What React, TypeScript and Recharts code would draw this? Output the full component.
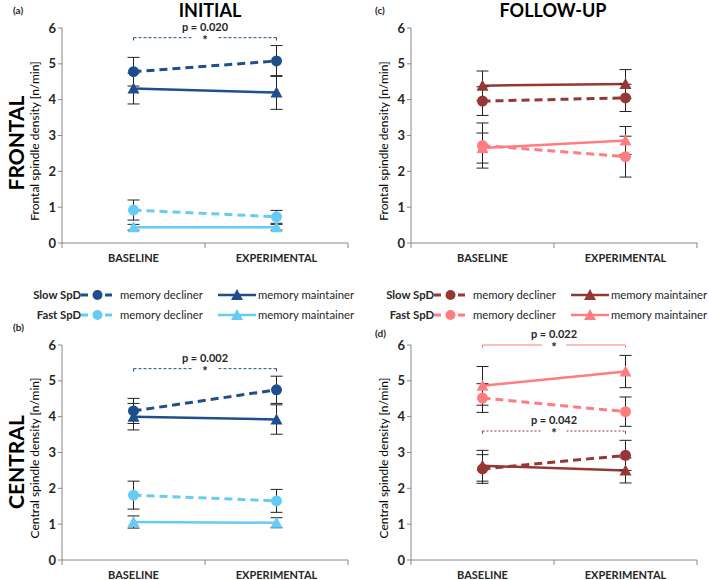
import React from "react";
import { LineChart, Line, XAxis, YAxis, ErrorBar, ReferenceLine } from "recharts";

const phases = ["BASELINE", "EXPERIMENTAL"];
const yTicks = [0, 1, 2, 3, 4, 5, 6];

// (a) initial / frontal
const aSlowDec = [4.78, 5.08];
const aSlowDecErr = [0.4, 0.43];
const aSlowMai = [4.31, 4.2];
const aSlowMaiErr = [0.43, 0.47];
const aFastDec = [0.92, 0.73];
const aFastDecErr = [0.28, 0.18];
const aFastMai = [0.44, 0.44];
const aFastMaiErr = [0.08, 0.08];

// (b) initial / central
const bSlowDec = [4.16, 4.75];
const bSlowDecErr = [0.35, 0.38];
const bSlowMai = [4.0, 3.92];
const bSlowMaiErr = [0.37, 0.41];
const bFastDec = [1.81, 1.65];
const bFastDecErr = [0.39, 0.32];
const bFastMai = [1.06, 1.04];
const bFastMaiErr = [0.17, 0.14];

// (c) follow-up / frontal
const cSlowDec = [3.96, 4.05];
const cSlowDecErr = [0.4, 0.38];
const cSlowMai = [4.39, 4.44];
const cSlowMaiErr = [0.41, 0.4];
const cFastDec = [2.72, 2.41];
const cFastDecErr = [0.63, 0.57];
const cFastMai = [2.65, 2.86];
const cFastMaiErr = [0.42, 0.39];

// (d) follow-up / central
const dSlowDec = [2.54, 2.92];
const dSlowDecErr = [0.4, 0.42];
const dSlowMai = [2.63, 2.5];
const dSlowMaiErr = [0.43, 0.35];
const dFastDec = [4.52, 4.14];
const dFastDecErr = [0.4, 0.41];
const dFastMai = [4.86, 5.26];
const dFastMaiErr = [0.54, 0.45];

// significance brackets: [y, p-text]
const aBrackets = [{ y: 5.73, p: "p = 0.020" }];
const bBrackets = [{ y: 5.34, p: "p = 0.002" }];
const dBrackets = [
  { y: 6.0, p: "p = 0.022" },
  { y: 3.6, p: "p = 0.042" },
];

const DARK_BLUE = "#1f4e8c";
const LIGHT_BLUE = "#66ccf5";
const DARK_RED = "#953735";
const SALMON = "#ff7c80";
const FONT = "Lato, 'Open Sans', sans-serif";

function build(sd: number[], sdE: number[], sm: number[], smE: number[], fd: number[], fdE: number[], fm: number[], fmE: number[]) {
  return phases.map((phase, i) => ({
    phase,
    slowDec: sd[i],
    slowDecErr: sdE[i],
    slowMai: sm[i],
    slowMaiErr: smE[i],
    fastDec: fd[i],
    fastDecErr: fdE[i],
    fastMai: fm[i],
    fastMaiErr: fmE[i],
  }));
}

const dataA = build(aSlowDec, aSlowDecErr, aSlowMai, aSlowMaiErr, aFastDec, aFastDecErr, aFastMai, aFastMaiErr);
const dataB = build(bSlowDec, bSlowDecErr, bSlowMai, bSlowMaiErr, bFastDec, bFastDecErr, bFastMai, bFastMaiErr);
const dataC = build(cSlowDec, cSlowDecErr, cSlowMai, cSlowMaiErr, cFastDec, cFastDecErr, cFastMai, cFastMaiErr);
const dataD = build(dSlowDec, dSlowDecErr, dSlowMai, dSlowMaiErr, dFastDec, dFastDecErr, dFastMai, dFastMaiErr);

const circleDot = (color: string) => (p: any) => (
  <circle key={`c${p.index}`} cx={p.cx} cy={p.cy} r={5.5} fill={color} stroke="none" />
);
const triDot = (color: string) => (p: any) => (
  <path
    key={`t${p.index}`}
    d={`M${p.cx},${p.cy - 6} L${p.cx + 6},${p.cy + 5} L${p.cx - 6},${p.cy + 5} Z`}
    fill={color}
  />
);

const PLOT_W = 286;

const XTick = (props: any) => {
  const { x, y, payload, index } = props;
  const half = PLOT_W / 4;
  const ay = y - 8;
  return (
    <g>
      {index === 0 && <line x1={x - half} x2={x - half} y1={ay} y2={ay + 5} stroke="#868686" />}
      <line x1={x + half} x2={x + half} y1={ay} y2={ay + 5} stroke="#868686" />
      <text x={x} y={y + 11} textAnchor="middle" fontFamily={FONT} fontSize={11} fontWeight={700} fill="#262626">
        {payload.value}
      </text>
    </g>
  );
};

const bracketLabel = (p: string) => (props: any) => {
  const vb = props.viewBox || {};
  const cx = vb.x + vb.width / 2;
  const y = vb.y;
  return (
    <g>
      <rect x={cx - 12} y={y - 3} width={24} height={6} fill="#fff" />
      <text x={cx} y={y + 7} textAnchor="middle" fontFamily={FONT} fontSize={13} fontWeight={700} fill="#262626">
        *
      </text>
      <text x={cx} y={y - 7} textAnchor="middle" fontFamily={FONT} fontSize={11} fontWeight={700} fill="#262626">
        {p}
      </text>
    </g>
  );
};

function Panel({
  data,
  slowColor,
  fastColor,
  brackets,
  width,
  height,
  yWidth,
  bottom,
}: {
  data: any[];
  slowColor: string;
  fastColor: string;
  brackets: { y: number; p: string; color: string; dash: string }[];
  width: number;
  height: number;
  yWidth: number;
  bottom: number;
}) {
  return (
    <LineChart width={width} height={height} data={data} margin={{ top: 28, right: 12, bottom: 0, left: 0 }}>
      <XAxis
        dataKey="phase"
        height={bottom}
        padding={{ left: PLOT_W / 4, right: PLOT_W / 4 }}
        axisLine={{ stroke: "#868686" }}
        tickLine={false}
        tick={<XTick />}
        interval={0}
      />
      <YAxis
        width={yWidth}
        domain={[0, 6]}
        ticks={yTicks}
        axisLine={{ stroke: "#868686" }}
        tickLine={{ stroke: "#868686" }}
        tickSize={4}
        tick={{ fontFamily: FONT, fontSize: 13, fontWeight: 700, fill: "#262626" }}
      />
      {brackets.map((b, i) => (
        <ReferenceLine
          key={`b${i}`}
          segment={[
            { x: phases[0], y: b.y },
            { x: phases[1], y: b.y },
          ]}
          stroke={b.color}
          strokeDasharray={b.dash}
          ifOverflow="visible"
          label={bracketLabel(b.p)}
        />
      ))}
      {brackets.map((b, i) =>
        phases.map((ph) => (
          <ReferenceLine
            key={`e${i}${ph}`}
            segment={[
              { x: ph, y: b.y },
              { x: ph, y: b.y - 0.08 },
            ]}
            stroke={b.color}
            ifOverflow="visible"
          />
        ))
      )}
      <Line dataKey="fastMai" stroke={fastColor} strokeWidth={2.5} dot={triDot(fastColor)} isAnimationActive={false}>
        <ErrorBar dataKey="fastMaiErr" width={6} stroke="#222" strokeWidth={1} direction="y" isAnimationActive={false} />
      </Line>
      <Line dataKey="fastDec" stroke={fastColor} strokeWidth={3} strokeDasharray="8 5" dot={circleDot(fastColor)} isAnimationActive={false}>
        <ErrorBar dataKey="fastDecErr" width={6} stroke="#222" strokeWidth={1} direction="y" isAnimationActive={false} />
      </Line>
      <Line dataKey="slowMai" stroke={slowColor} strokeWidth={2.5} dot={triDot(slowColor)} isAnimationActive={false}>
        <ErrorBar dataKey="slowMaiErr" width={6} stroke="#222" strokeWidth={1} direction="y" isAnimationActive={false} />
      </Line>
      <Line dataKey="slowDec" stroke={slowColor} strokeWidth={3} strokeDasharray="8 5" dot={circleDot(slowColor)} isAnimationActive={false}>
        <ErrorBar dataKey="slowDecErr" width={6} stroke="#222" strokeWidth={1} direction="y" isAnimationActive={false} />
      </Line>
    </LineChart>
  );
}

const abs = (left: number, top: number, extra: React.CSSProperties = {}): React.CSSProperties => ({
  position: "absolute",
  left,
  top,
  ...extra,
});

function VText({ x, y, text, size, bold }: { x: number; y: number; text: string; size: number; bold?: boolean }) {
  return (
    <div
      style={{
        position: "absolute",
        left: x,
        top: y,
        transform: "translate(-50%, -50%) rotate(-90deg)",
        whiteSpace: "nowrap",
        fontSize: size,
        fontWeight: bold ? 700 : 400,
        color: "#000",
        fontFamily: FONT,
        lineHeight: 1,
      }}
    >
      {text}
    </div>
  );
}

function LegendMark({ color, kind, w }: { color: string; kind: "dec" | "mai"; w: number }) {
  return (
    <svg width={w} height={12} style={{ display: "block" }}>
      {kind === "dec" ? (
        <>
          <line x1={0} x2={w} y1={6} y2={6} stroke={color} strokeWidth={3} strokeDasharray="7 5" />
          <circle cx={w / 2} cy={6} r={5} fill={color} />
        </>
      ) : (
        <>
          <line x1={0} x2={w} y1={6} y2={6} stroke={color} strokeWidth={2.5} />
          <path d={`M${w / 2},0 L${w / 2 + 6},11 L${w / 2 - 6},11 Z`} fill={color} />
        </>
      )}
    </svg>
  );
}

function Legend({ left, slowColor, fastColor }: { left: number; slowColor: string; fastColor: string }) {
  const rows = [
    { name: "Slow SpD", color: slowColor, top: 287 },
    { name: "Fast SpD", color: fastColor, top: 307 },
  ];
  const txt: React.CSSProperties = { fontFamily: FONT, fontSize: 11.3, color: "#262626", whiteSpace: "nowrap", lineHeight: "16px" };
  return (
    <>
      {rows.map((r) => (
        <React.Fragment key={r.name}>
          <div style={abs(left - 20, r.top, { ...txt, width: 66, textAlign: "right", fontWeight: 700 })}>{r.name}</div>
          <div style={abs(left + 46, r.top + 2)}>
            <LegendMark color={r.color} kind="dec" w={33} />
          </div>
          <div style={abs(left + 85, r.top, txt)}>memory decliner</div>
          <div style={abs(left + 183, r.top + 2)}>
            <LegendMark color={r.color} kind="mai" w={38} />
          </div>
          <div style={abs(left + 223, r.top, txt)}>memory maintainer</div>
        </React.Fragment>
      ))}
    </>
  );
}

export default function App() {
  const small: React.CSSProperties = { fontFamily: FONT, fontSize: 10, fontWeight: 700, color: "#262626" };
  const title: React.CSSProperties = {
    fontFamily: FONT,
    fontSize: 18,
    fontWeight: 700,
    color: "#000",
    transform: "translateX(-50%)",
    whiteSpace: "nowrap",
    lineHeight: 1,
  };
  return (
    <div style={{ position: "absolute", left: 0, top: 0, width: 709, height: 580, background: "#fff", overflow: "hidden" }}>
      <div style={abs(210, 1, title)}>INITIAL</div>
      <div style={abs(553, 1, title)}>FOLLOW-UP</div>
      <div style={abs(13, 4, small)}>(a)</div>
      <div style={abs(13, 321, small)}>(b)</div>
      <div style={abs(375, 4, small)}>(c)</div>
      <div style={abs(375, 327, small)}>(d)</div>

      <VText x={15} y={143} text="FRONTAL" size={21} bold />
      <VText x={15} y={462} text="CENTRAL" size={21} bold />
      <VText x={35} y={141} text="Frontal spindle density [n/min]" size={12} />
      <VText x={35} y={458} text="Central  spindle density [n/min]" size={12} />
      <VText x={384} y={141} text="Frontal spindle density [n/min]" size={12} />
      <VText x={384} y={458} text="Central spindle density [n/min]" size={12} />

      <div style={abs(0, 0)}>
        <Panel
          data={dataA}
          slowColor={DARK_BLUE}
          fastColor={LIGHT_BLUE}
          brackets={aBrackets.map((b) => ({ ...b, color: DARK_BLUE, dash: "3 2" }))}
          width={360}
          height={290}
          yWidth={62}
          bottom={47}
        />
      </div>
      <div style={abs(0, 317)}>
        <Panel
          data={dataB}
          slowColor={DARK_BLUE}
          fastColor={LIGHT_BLUE}
          brackets={bBrackets.map((b) => ({ ...b, color: DARK_BLUE, dash: "3 2" }))}
          width={360}
          height={263}
          yWidth={62}
          bottom={20}
        />
      </div>
      <div style={abs(350, 0)}>
        <Panel data={dataC} slowColor={DARK_RED} fastColor={SALMON} brackets={[]} width={359} height={290} yWidth={61} bottom={47} />
      </div>
      <div style={abs(350, 317)}>
        <Panel
          data={dataD}
          slowColor={DARK_RED}
          fastColor={SALMON}
          brackets={dBrackets.map((b, i) => ({ ...b, color: i === 0 ? SALMON : DARK_RED, dash: i === 0 ? "0" : "2 2" }))}
          width={359}
          height={263}
          yWidth={61}
          bottom={20}
        />
      </div>

      <Legend left={35} slowColor={DARK_BLUE} fastColor={LIGHT_BLUE} />
      <Legend left={388} slowColor={DARK_RED} fastColor={SALMON} />
    </div>
  );
}
